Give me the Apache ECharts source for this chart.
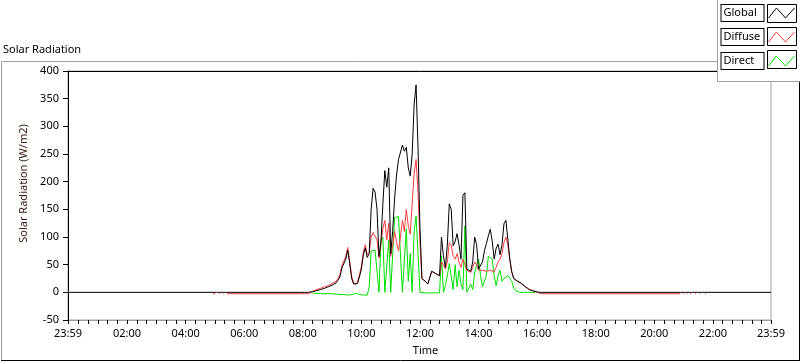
<!DOCTYPE html>
<html><head><meta charset="utf-8">
<script src="https://cdn.jsdelivr.net/npm/echarts@6/dist/echarts.min.js"></script>
<style>html,body{margin:0;padding:0;background:#fff}#c{width:800px;height:361px}</style>
</head><body><div id="c"></div>
<script>
// ---- data (minutes after midnight; -1 = 23:59 of previous day) ----
const seriesNames = ['Global', 'Diffuse', 'Direct'];
const minutes = [
  -1, 296, 300, 303, 308, 310, 313, 316, 318, 321, 324,
  476, 480, 484, 488, 492, 496, 500, 504, 508, 512, 516, 520, 524, 528, 532, 536, 540, 544, 548, 552, 556, 560,
  564, 568, 572, 576, 580, 584, 588, 592, 596, 600, 604, 608, 612, 616, 620, 624, 628, 632, 636, 640, 644, 648,
  652, 656, 660, 664, 668, 672, 676, 680, 684, 688, 692, 696, 700, 704, 708, 712, 716, 720, 724, 728, 732, 736,
  740, 744, 748, 752, 756, 760, 764, 768, 772, 776, 780, 784, 788, 792, 796, 800, 804, 808, 812, 816, 820, 824,
  828, 832, 836, 840, 844, 848, 852, 856, 860, 864, 868, 872, 876, 880, 884, 888, 892, 896, 900, 904, 908, 912,
  916, 920, 924, 928, 932, 936, 940, 944, 948, 952, 956, 960, 964,
  968, 1253, 1256, 1259, 1261, 1263, 1266, 1268, 1270, 1273, 1275, 1278, 1283, 1285, 1289, 1293, 1295, 1299, 1304, 1306, 1439
];
const globalRad = [
  0, 0, 0, 0, 0, 0, 0, 0, 0, 0, 0,
  0, 0, 0, 0, 0, 0.5, 1, 2, 3, 4, 5, 6, 7, 8, 10, 11, 13, 14, 17, 22, 28, 44,
  43, 60, 76, 52, 25, 15, 12, 16, 28, 42, 68, 80, 63, 70, 150, 188, 181, 150, 65, 92, 160, 220,
  190, 225, 70, 110, 170, 212, 240, 240, 266, 255, 262, 225, 210, 250, 340, 375, 260, 115, 25, 22, 19, 15,
  13, 38, 36, 34, 32, 30, 100, 66, 45, 85, 160, 150, 84, 92, 106, 86, 60, 175, 180, 42, 42, 38,
  55, 100, 86, 42, 42, 55, 75, 88, 102, 114, 92, 60, 80, 87, 68, 86, 124, 130, 95, 60, 37, 25,
  22, 20, 18, 16, 14, 10, 7, 5, 4, 2.5, 1.5, 0.5, 0,
  0, 0, 0, 0, 0, 0, 0, 0, 0, 0, 0, 0, 0, 0, 0, 0, 0, 0, 0, 0, 0
];
const diffuseRad = [
  null, -2.5, -2.5, null, -2.5, -2.5, null, -2.5, -2.5, null, -2.5,
  -2.5, -2.5, -2.5, -2.5, -2.5, 1, 2, 4, 5, 6, 7, 8, 10, 10, 12, 14, 16, 17, 20, 25, 32, 48,
  47, 65, 81, 57, 29, 18, 14, 19, 32, 47, 73, 86, 68, 72, 100, 108, 105, 95, 62, 88, 115, 130,
  95, 125, 65, 85, 110, 90, 75, 100, 130, 110, 150, 120, 105, 160, 215, 240, 180, 90, 25, 22, 19, 15,
  13, 38, 36, 34, 32, 30, 55, 50, 42, 55, 90, 85, 65, 60, 70, 55, 45, 60, 60, 40, 40, 36,
  45, 55, 50, 40, 38, 40, 40, 38, 38, 40, 38, 37, 45, 55, 60, 70, 90, 100, 85, 58, 37, 25,
  22, 20, 18, 16, 14, 10, 7, 5, 4, 2.5, 1.5, 0.5, 0,
  -2.5, -2.5, null, -2.5, -2.5, null, -2.5, -2.5, null, -2.5, -2.5, null, -2.5, -2.5, null, -2.5, -2.5, null, -2.5, -2.5, null
];
const directRad = [
  null, null, null, null, null, null, null, null, null, null, null,
  null, null, null, null, null, null, -1, -2, -2, -2, -2, -2, -3, -2, -2, -3, -3, -3, -3, -3, -4, -4,
  -4, -5, -5, -5, -4, -3, -2, -3, -4, -5, -5, -6, -5, 10, 75, 78, 76, 74, 0, 95, 100, 0,
  0, 95, 0, 0, 135, 137, 137, 135, 0, 0, 115, 20, 70, 0, 110, 138, 141, 0, -1, -1, -1, -1,
  -1, -1, -1, -1, -1, -1, 66, 0, 12, 30, 52, 55, 5, 50, 10, 40, 15, 5, 120, 0, 0, 15,
  5, 35, 50, 60, 30, 10, 20, 30, 65, 66, 60, 30, 12, 30, 40, 20, 25, 28, 30, 25, 20, 8,
  3, 0, 0, 0, 0, 0, 0, 0, 0, 0, 0, null, null,
  null, null, null, null, null, null, null, null, null, null, null, null, null, null, null, null, null, null, null, null, null
];
const xTickMinutes = [-1, 20, 40, 60, 80, 100, 120, 140, 160, 180, 200, 220, 240, 260, 280, 300, 320, 340, 360,
  380, 400, 420, 440, 460, 480, 500, 520, 540, 560, 580, 600, 620, 640, 660, 680, 700, 720, 740, 760, 780, 800,
  820, 840, 860, 880, 900, 920, 940, 960, 980, 1000, 1020, 1040, 1060, 1080, 1100, 1120, 1140, 1160, 1180, 1200,
  1220, 1240, 1260, 1280, 1300, 1320, 1340, 1360, 1380, 1400, 1420, 1439];
const xLabelMinutes = [-1, 120, 240, 360, 480, 600, 720, 840, 960, 1080, 1200, 1320, 1439];

// ---- styles ----
const FONT = 'Noto Sans';
const colors = ['#000000', '#ff3c3c', '#00e000'];

function fmtTime(v) {
  if (v < 0) v += 1440;
  const h = Math.floor(v / 60), m = Math.round(v % 60);
  return String(h).padStart(2, '0') + ':' + String(m).padStart(2, '0');
}
const valueArrays = [globalRad, diffuseRad, directRad];
const zs = [5, 4, 3];

const chart = echarts.init(document.getElementById('c'), null, {renderer: 'canvas'});
const zig = 'path://M0,10 L8,0 L17,10 L26,0';

chart.setOption({
  backgroundColor: '#fff',
  animation: false,
  title: {
    text: 'Solar Radiation', left: 3, top: 44, padding: 0,
    textStyle: {fontFamily: FONT, fontSize: 11, fontWeight: 'normal', color: '#000'}
  },
  legend: {
    orient: 'vertical', right: 5, top: 4, padding: 0, itemGap: 6, z: 200,
    align: 'right', itemWidth: 26, itemHeight: 10, icon: zig, selectedMode: false,
    data: seriesNames.map((n, i) => ({name: n, itemStyle: {color: 'transparent', borderColor: colors[i], borderWidth: 1}})),
    formatter: name => '{t|' + name + '}',
    textStyle: {
      fontFamily: FONT, fontSize: 11, color: '#000',
      padding: [1, 2, 1, 2], borderColor: '#000', borderWidth: 1, backgroundColor: '#fff',
      rich: {t: {fontFamily: FONT, fontSize: 11, color: '#000', width: 38, align: 'left', lineHeight: 14}}
    }
  },
  grid: {left: 68, right: 29, top: 71, bottom: 39, show: true, borderColor: '#a0a0a0', borderWidth: 1, backgroundColor: 'transparent'},
  xAxis: [{
    type: 'value', min: -1, max: 1439, position: 'bottom',
    name: 'Time', nameLocation: 'middle', nameGap: 25,
    nameTextStyle: {fontFamily: FONT, fontSize: 11, color: '#000', padding: [0, 0, 0, 12]},
    axisLine: {show: true, onZero: false, lineStyle: {color: '#a0a0a0', width: 1}},
    axisTick: {show: true, length: 4, customValues: xTickMinutes, lineStyle: {color: '#000'}},
    axisLabel: {customValues: xLabelMinutes, formatter: fmtTime, margin: 8, fontFamily: FONT, fontSize: 11, color: '#000'},
    splitLine: {show: false}
  }, {
    type: 'value', min: -1, max: 1439, position: 'top',
    axisLine: {show: true, onZero: false, lineStyle: {color: '#000', width: 1}},
    axisTick: {show: false}, axisLabel: {show: false}, splitLine: {show: false}
  }],
  yAxis: {
    type: 'value', min: -50, max: 400, interval: 50,
    name: 'Solar Radiation (W/m2)', nameLocation: 'middle', nameGap: 29,
    nameTextStyle: {fontFamily: FONT, fontSize: 11, color: '#3a1a10', padding: [0, 0, 0, 24]},
    axisLine: {show: true, onZero: false, lineStyle: {color: '#000', width: 1}},
    axisTick: {show: true, length: 5, lineStyle: {color: '#000'}},
    axisLabel: {margin: 9, fontFamily: FONT, fontSize: 11, color: '#000'},
    splitLine: {show: false}
  },
  series: seriesNames.map((n, i) => ({
    name: n, type: 'line', xAxisIndex: 0, z: zs[i],
    showSymbol: false, symbol: 'none', connectNulls: false,
    lineStyle: {color: colors[i], width: 1}, itemStyle: {color: colors[i]},
    data: minutes.map((t, k) => [t, valueArrays[i][k]])
  })),
  graphic: [
    {type: 'line', z: 100, shape: {x1: 1.5, y1: 61.5, x2: 717, y2: 61.5}, style: {stroke: '#a0a0a0', lineWidth: 1}},
    {type: 'line', z: 100, shape: {x1: 1.5, y1: 61.5, x2: 1.5, y2: 360}, style: {stroke: '#a0a0a0', lineWidth: 1}},
    {type: 'line', z: 100, shape: {x1: 1, y1: 360.5, x2: 800, y2: 360.5}, style: {stroke: '#000', lineWidth: 1}},
    {type: 'line', z: 100, shape: {x1: 799.5, y1: 82, x2: 799.5, y2: 361}, style: {stroke: '#000', lineWidth: 1}},
    {type: 'rect', z: 100, shape: {x: 717, y: 0, width: 83, height: 82}, style: {fill: '#fff', stroke: null}},
    {type: 'line', z: 101, shape: {x1: 717.5, y1: 0, x2: 717.5, y2: 82}, style: {stroke: '#a0a0a0', lineWidth: 1}},
    {type: 'line', z: 101, shape: {x1: 717, y1: 81.5, x2: 800, y2: 81.5}, style: {stroke: '#a0a0a0', lineWidth: 1}},
    {type: 'rect', z: 101, shape: {x: 767.5, y: 4.5, width: 29, height: 18}, style: {fill: '#fff', stroke: '#000', lineWidth: 1}},
    {type: 'rect', z: 101, shape: {x: 767.5, y: 27.5, width: 29, height: 18}, style: {fill: '#fff', stroke: '#000', lineWidth: 1}},
    {type: 'rect', z: 101, shape: {x: 767.5, y: 50.5, width: 29, height: 18}, style: {fill: '#fff', stroke: '#000', lineWidth: 1}}
  ]
});
</script>
</body></html>
